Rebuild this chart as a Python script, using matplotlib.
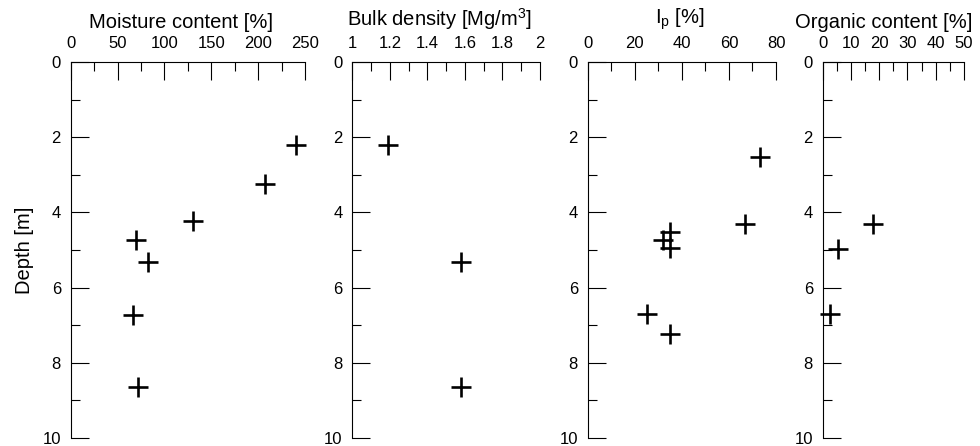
import matplotlib
matplotlib.use("Agg")
import matplotlib.pyplot as plt
from matplotlib.ticker import MultipleLocator

plt.rcParams["font.family"] = ["Liberation Sans", "DejaVu Sans"]
plt.rcParams["mathtext.fontset"] = "custom"
plt.rcParams["mathtext.rm"] = "Liberation Sans"
plt.rcParams["mathtext.it"] = "Liberation Sans:italic"

# Data (depth in m)
moisture_depth = [2.2, 3.25, 4.23, 4.73, 5.31, 6.73, 8.65]
moisture_value = [240, 207, 130, 70, 82, 66, 72]

density_depth = [2.2, 5.31, 8.65]
density_value = [1.19, 1.58, 1.58]

ip_depth = [2.52, 4.32, 4.51, 4.73, 4.96, 6.69, 7.24]
ip_value = [73, 67, 35, 32, 35, 25, 35]

organic_depth = [4.32, 4.97, 6.69]
organic_value = [17.7, 5.3, 2.6]

titles = ["Moisture content [%]", "Bulk density [Mg/m$^3$]",
          "I$_\\mathrm{p}$ [%]", "Organic content [%]"]
xlims = [(0, 250), (1, 2), (0, 80), (0, 50)]
major_steps = [50, 0.2, 20, 10]

W, H = 980, 446
boxes = [(70.7, 305.0), (352.3, 540.0), (587.7, 776.0), (822.7, 964.0)]
title_centers = [181, 439.5, 680, 884]   # pixel x of the label centres
top_px, bot_px = 62, 438

fig = plt.figure(figsize=(W / 100, H / 100), dpi=100)

series = [(moisture_value, moisture_depth), (density_value, density_depth),
          (ip_value, ip_depth), (organic_value, organic_depth)]

for i, ((x0, x1), (xs, ys)) in enumerate(zip(boxes, series)):
    ax = fig.add_axes([x0 / W, 1 - bot_px / H, (x1 - x0) / W, (bot_px - top_px) / H])
    ax.plot(xs, ys, linestyle="none", marker="+", markersize=14,
            markeredgewidth=1.9, color="black", clip_on=False)
    ax.set_xlim(*xlims[i])
    ax.set_ylim(10, 0)
    ax.xaxis.set_ticks_position("top")
    ax.xaxis.set_label_position("top")
    ax.spines["right"].set_visible(False)
    ax.spines["bottom"].set_visible(False)
    for s in ("top", "left"):
        ax.spines[s].set_linewidth(0.8)
    ax.xaxis.set_major_locator(MultipleLocator(major_steps[i]))
    ax.xaxis.set_minor_locator(MultipleLocator(major_steps[i] / 2))
    ax.yaxis.set_major_locator(MultipleLocator(2))
    ax.yaxis.set_minor_locator(MultipleLocator(1))
    ax.tick_params(which="both", direction="in", labelsize=12, width=0.8)
    ax.tick_params(which="major", length=13)
    ax.tick_params(which="minor", length=6.5)
    ax.tick_params(axis="x", which="major", pad=8)
    ax.tick_params(axis="y", which="major", pad=7)
    if i == 1:
        ax.xaxis.set_major_formatter(plt.FuncFormatter(lambda v, p: f"{v:g}"))
    ax.set_xlabel(titles[i], fontsize=14.5)
    ax.xaxis.set_label_coords((title_centers[i] - x0) / (x1 - x0),
                              1 + 30 / (bot_px - top_px))
    ax.xaxis.label.set_va("bottom")
    if i == 0:
        ax.set_ylabel("Depth [m]", fontsize=14.5, labelpad=6)

fig.savefig("out.png", dpi=100)
